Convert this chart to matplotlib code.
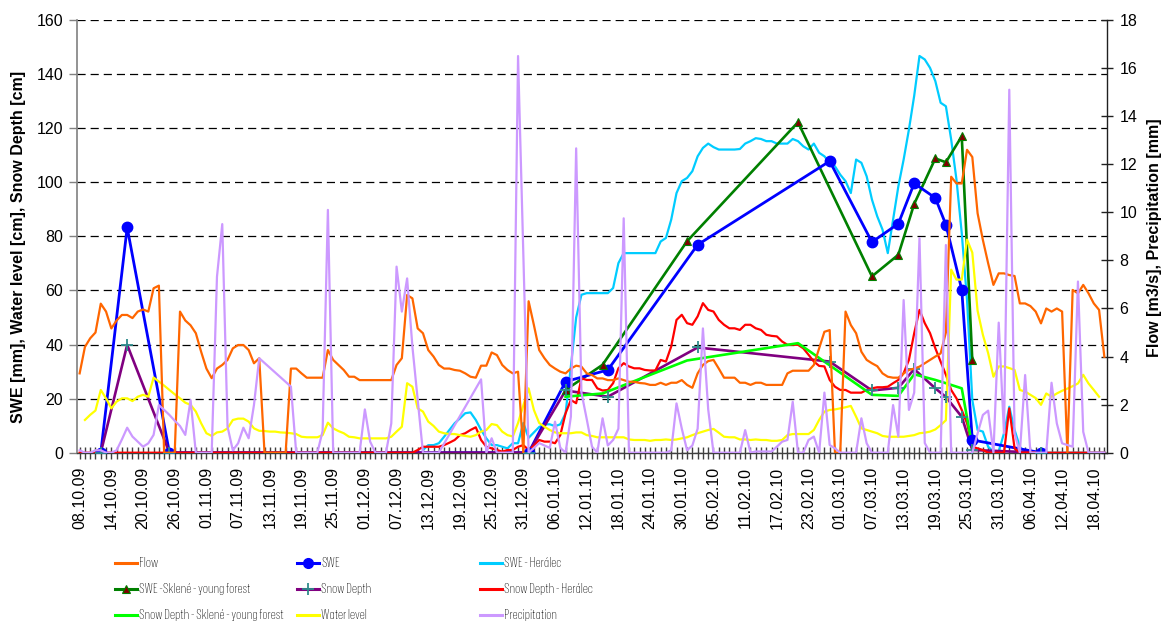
import os
import numpy as np
import pandas as pd
import matplotlib
matplotlib.use("Agg")
import matplotlib.pyplot as plt
from matplotlib.lines import Line2D
from matplotlib import font_manager
from matplotlib.font_manager import FontProperties
from matplotlib.textpath import TextPath
from matplotlib.ft2font import FT2Font

plt.rcParams['font.family'] = ['Liberation Sans', 'DejaVu Sans']

nan = np.nan

# ---- daily series, 08.10.2009 - 20.04.2010 ----
start_date = '2009-10-08'
n_days = 195
dates = pd.date_range(start_date, periods=n_days, freq='D').to_pydatetime()

flow = [  # m3/s
    3.3, 4.4, 4.76, 5.0, 6.2, 5.87, 5.17, 5.5, 5.73, 5.73,
    5.6, 5.87, 5.96, 5.87, 6.84, 6.95, 0, 0, 0, 5.87,
    5.5, 5.3, 4.97, 4.2, 3.5, 3.1, 3.5, 3.65, 3.86, 4.34,
    4.48, 4.48, 4.27, 3.72, 3.93, 0, 0, 0, 0, 0,
    3.5, 3.5, 3.3, 3.12, 3.12, 3.12, 3.12, 4.27, 3.86, 3.65,
    3.44, 3.16, 3.16, 3.02, 3.02, 3.02, 3.02, 3.02, 3.02, 3.02,
    3.65, 3.93, 6.56, 6.42, 5.17, 4.97, 4.27, 4.0, 3.65, 3.5,
    3.5, 3.44, 3.41, 3.3, 3.16, 3.12, 3.62, 3.62, 4.17, 4.06,
    3.65, 3.44, 3.3, 3.37, 0, 6.3, 5.31, 4.27, 3.93, 3.65,
    3.5, 3.37, 3.3, 3.5, 3.62, 3.58, 3.3, 3.23, 3.09, 3.09,
    3.02, 3.02, 3.09, 3.02, 2.95, 2.95, 2.9, 2.88, 2.82, 2.82,
    2.91, 2.82, 2.91, 2.91, 3.02, 2.82, 2.7, 3.3, 3.65, 3.81,
    3.86, 3.5, 3.12, 3.12, 3.12, 2.91, 2.91, 2.82, 2.91, 2.91,
    2.82, 2.82, 2.82, 2.82, 3.3, 3.41, 3.41, 3.41, 3.41, 3.65,
    4.34, 5.03, 5.1, 0, 0, 5.87, 5.31, 4.97, 4.2, 3.86,
    3.72, 3.6, 3.3, 3.16, 3.12, 3.12, 3.3, 3.44, 3.5, 3.58,
    3.72, 3.86, 4.0, 4.13, 5.0, 11.48, 11.2, 11.2, 12.6, 12.3,
    9.96, 8.85, 7.88, 6.98, 7.46, 7.46, 7.39, 7.35, 6.21, 6.21,
    6.1, 5.87, 5.38, 6.0, 5.87, 6.0, 5.87, 0, 6.77, 6.63,
    6.98, 6.63, 6.21, 5.94, 3.99,
]

water_level = [  # cm
    nan, 12.1, 14, 15.6, 23.2, 20.1, 16.4, 18.9, 20.1, 20.1,
    19.1, 20.7, 21.4, 20.7, 27.8, 26.3, 24.8, 23.2, 21.6, 20.1,
    18.5, 17.7, 15.2, 10.9, 7.2, 6.2, 7.5, 7.8, 9.0, 12.1,
    12.6, 12.6, 11.5, 9.0, 8.1, 8.0, 7.8, 7.8, 7.5, 7.4,
    7.2, 6.9, 5.9, 5.7, 5.7, 5.7, 6.5, 11.1, 9.0, 8.0,
    7.2, 5.9, 5.7, 5.3, 5.3, 5.3, 5.3, 5.3, 5.3, 5.9,
    7.8, 9.6, 25.7, 24.4, 16.4, 15.2, 11.5, 9.9, 7.8, 7.2,
    6.9, 6.9, 6.5, 6.2, 5.9, 6.5, 7.8, 8.4, 10.6, 10.2,
    7.8, 6.5, 6.0, 11.0, 17.5, 23.8, 15.8, 11.0, 9.6, 8.4,
    7.5, 7.2, 7.2, 7.2, 7.5, 7.5, 6.5, 6.2, 5.7, 5.7,
    5.7, 5.7, 5.7, 5.7, 4.9, 4.7, 4.7, 4.7, 4.4, 4.7,
    4.7, 4.9, 4.7, 4.9, 5.3, 5.7, 6.5, 7.2, 7.8, 8.4,
    8.8, 7.4, 5.9, 5.7, 5.7, 4.9, 4.9, 4.7, 4.9, 4.7,
    4.7, 4.4, 4.4, 4.7, 6.5, 6.9, 6.9, 6.9, 6.9, 8.4,
    12.1, 15.2, 15.8, 16.0, 16.4, 16.8, 17.3, 13.3, 9.0, 8.4,
    7.8, 7.2, 6.2, 5.9, 5.9, 5.9, 5.9, 6.2, 6.5, 7.2,
    7.4, 7.8, 8.6, 10.2, 12.0, 67.7, 64.0, 64.0, 78.8, 74.0,
    52.5, 43.6, 36.8, 28.1, 31.9, 31.9, 31.3, 30.6, 23.2, 22.6,
    21.4, 20.2, 17.7, 21.9, 20.7, 21.9, 22.9, 23.7, 24.6, 25.6,
    28.8, 25.6, 23.2, 20.7, nan,
]

precipitation = [  # mm, nan = no record
    0.1, 0, 0, 0.1, 0.1, 0, 0, 0.1, 0.55, 1.04,
    0.67, 0.46, 0.25, 0.39, 0.74, 1.98, 1.78, 1.57, 1.33, 1.11,
    0.74, 2.19, 0, 0, 0, 0, 7.32, 9.51, 1.08, 0.1,
    0.39, 1.04, 0.6, 1.98, 3.93, nan, nan, nan, nan, nan,
    2.75, 0, 0, 0, 0, 0, 0.9, 10.1, 0, 0,
    0, 0, 0, 0, 1.8, 0.46, 0, 0, 0, 1.22,
    7.74, 5.87, 7.25, 4.41, 2.19, 0, 0, 0, 0, nan,
    nan, nan, nan, nan, nan, nan, 3.05, 0, 0.6, 0,
    0, 0, 0, 16.5, 8.3, 0, 0.2, 0.4, 0.3, 0.2,
    1.29, 0.2, 0, 1.5, 12.66, 2.5, 1.4, 0.25, 0, 1.43,
    0.3, 0.53, 1.0, 9.75, 0, 0, 0, 0, 0, 0,
    0, 0, 0.1, 2.05, 1.0, 0.1, 0.3, 1.0, 5.17, 1.8,
    0, 0, 0, 0, 0, 0, 0.94, 0, 0.05, 0.05,
    0.05, 0.05, 0.25, 0.46, 0.53, 2.12, 0, 0, 0.53, 0.67,
    0, 2.5, 0.32, 0.18, 0, 0, 0, 0, 1.43, 0.39,
    0, 0, 0, 0, 1.98, 0.67, 6.35, 1.78, 2.5, 8.92,
    0.4, 0, 0, 0, 8.64, 0, 0, 0, 0, 0,
    0.8, 1.57, 1.75, 0, 5.41, 0.8, 15.1, 0.8, 0, 3.23,
    0, 0, 0, 0, 2.91, 1.22, 0.39, 0.32, 0.25, 7.12,
    0.87, 0, 0, 0, 0,
]

swe_heralec = [nan] * 65 + [  # mm, from 12.12.2009
    1.0, 2.8, 2.8, 3.5, 5.9,
    8.4, 10.9, 12.7, 14.6, 14.9, 12.1, 8.4, 5.3, 2.8, 2.8,
    2.2, 1.6, 3.5, 3.5, 11.0, 5.5, 7.5, 9.5, 10.5, 10.5,
    9.8, 10.5, 14.6, 31.9, 50.0, 58.4, 59, 59, 59, 59,
    59, 60.9, 70.1, 73.8, 73.8, 73.8, 73.8, 73.8, 73.8, 73.8,
    78.1, 79.4, 86.2, 96, 100.4, 101.6, 104.1, 109.6, 112.7, 114.3,
    113, 112.1, 112.1, 112.1, 112.1, 112.3, 114.3, 115.2, 116.3, 116,
    115.2, 115.2, 114.3, 114.3, 114.3, 116, 115.2, 113.3, 112.1, 114.3,
    110.9, 109.6, 107.2, 105.9, 102.8, 100.4, 96, 108.4, 107.2, 102.2,
    93.6, 87.4, 82.5, 73.8, 86.2, 98.5, 108.4, 119.5, 132, 146.7,
    145.4, 142.3, 137.4, 129.4, 128.1, 115.8, 101, 81.2, 56.5, 19.5,
    8.4, 7.8, 2.2, 0.4, 0.4, 7.2, 17, 8.4, 2.2, 0,
    0, 0, 0, 0, 0, 0, 0, 0, 0, 0, 0, 0, 0, 0, 0,
]

snow_depth_heralec = [0.0] * 64 + [  # cm
    1.0, 2.2, 2.2, 2.2, 2.2, 2.8,
    3.7, 4.7, 6.5, 7.2, 8.4, 9.4, 4.7, 2.2, 1.6, 1.0,
    0.4, 1.0, 1.0, 2.2, 2.8, 1.0, 2.5, 4.7, 4.1, 4.1,
    3.5, 6.5, 14.6, 19.5, 18.3, 27.5, 26.9, 26.9, 23.8, 23.0,
    23.2, 25.7, 31.2, 33.1, 31.9, 31.2, 31.2, 30.6, 30.4, 30.4,
    34.3, 33.7, 39.3, 49.1, 51.0, 47.9, 47.3, 50.4, 55.3, 52.8,
    52.2, 49.1, 47.3, 46.0, 46.0, 45.4, 47.3, 47.3, 46.0, 45.4,
    43.6, 43.2, 43.0, 41.1, 39.9, 39.9, 39.9, 38.6, 36.2, 33.7,
    32.1, 31.9, 26.9, 24.4, 23.2, 23.2, 22.2, 22.2, 22.2, 23.2,
    23.8, 24.2, 24.2, 24.4, 25.7, 26.9, 29.4, 34.3, 44.2, 52.8,
    47.9, 44.2, 38.6, 33.7, 28.8, 23.2, 20.1, 15.8, 10.9, 2.2,
    1.6, 1.0, 0, 0, 0, 0, 16.4, 1.6, 0, 0,
    0, 0, 0, 0, 0, 0, 0, 0, 0, 0, 0, 0, 0, 0, 0,
]

# ---- field surveys ----
survey_dates = ['2009-10-12', '2009-10-17', '2009-10-25', '2010-01-01',
                '2010-01-08', '2010-01-16', '2010-02-02', '2010-02-27',
                '2010-03-07', '2010-03-12', '2010-03-15', '2010-03-19',
                '2010-03-21', '2010-03-24', '2010-03-26', '2010-04-08']
swe = [0, 83.3, 0, 0, 26.3, 30.6, 76.9, 107.8,
       77.9, 84.7, 99.6, 94.2, 84.3, 60.3, 4.7, 0]
snow_depth = [0, 39.9, 0, 0, 23.0, 20.7, 38.9, 33.7,
              23.0, 24.0, 30.9, 23.8, 20.6, 13.3, 1.0, 0]

sklene_dates = ['2010-01-08', '2010-01-15', '2010-01-31', '2010-02-21',
                '2010-03-07', '2010-03-12', '2010-03-15', '2010-03-19',
                '2010-03-21', '2010-03-24', '2010-03-26']
swe_sklene = [23.2, 32.5, 78.2, 122.2, 65.2, 73.2, 92.0, 108.8, 107.4, 117.0, 34.1]
snow_depth_sklene = [20.7, 21.9, 34.1, 40.5, 21.4, 21.0, 29.0, 26.9, 25.7, 23.8, 2.2]

for s in (flow, water_level, precipitation, swe_heralec, snow_depth_heralec):
    assert len(s) == n_days, len(s)

survey_x = pd.to_datetime(survey_dates).to_pydatetime()
sklene_x = pd.to_datetime(sklene_dates).to_pydatetime()

# ---- colours ----
C_FLOW = '#FF6600'
C_SWE = '#0000FF'
C_SWE_H = '#00CCFF'
C_SWE_S = '#008000'
C_SD = '#800080'
C_SD_H = '#FF0000'
C_SD_S = '#00FF00'
C_WL = '#FFFF00'
C_PREC = '#CC99FF'
C_TRI = '#800000'
C_PLUS = '#2E8B8B'

W, H = 1173, 626
fig = plt.figure(figsize=(W / 100, H / 100), dpi=100)
ax = fig.add_axes([77 / W, 1 - 452.7 / H, (1107 - 77) / W, (452.7 - 20) / H])
ax2 = ax.twinx()

LW = 1.6
wl = np.array(water_level, dtype=float)
ok_wl = ~np.isnan(wl)
ax.plot(dates, swe_heralec, color=C_SWE_H, lw=LW, zorder=3)
ax.plot(sklene_x, swe_sklene, color=C_SWE_S, lw=1.9, zorder=4)
ax.plot(survey_x, swe, color=C_SWE, lw=2.0, zorder=4)
ax.plot(survey_x, snow_depth, color=C_SD, lw=1.9, zorder=4)
ax.plot(dates, snow_depth_heralec, color=C_SD_H, lw=LW, zorder=4)
ax.plot(sklene_x, snow_depth_sklene, color=C_SD_S, lw=1.9, zorder=4)
ax.plot(np.array(dates)[ok_wl], wl[ok_wl], color=C_WL, lw=LW, zorder=4)
# markers on top of the lines
ax.plot(survey_x, swe, ls='none', marker='o', ms=7.5, mfc=C_SWE, mec=C_SWE, zorder=6)
ax.plot(sklene_x, swe_sklene, ls='none', marker='^', ms=5.5, mfc=C_TRI,
        mec=C_SWE_S, mew=0.8, zorder=6)
ax.plot(survey_x, snow_depth, ls='none', marker='+', ms=9, mec=C_PLUS, mew=1.3, zorder=6)

prec = np.array(precipitation, dtype=float)
ok_p = ~np.isnan(prec)
ax2.plot(dates, flow, color=C_FLOW, lw=LW, zorder=3)
ax2.plot(np.array(dates)[ok_p], prec[ok_p], color=C_PREC, lw=LW, zorder=4)

# ---- axes ----
pad_day = pd.Timedelta(hours=12)
ax.set_xlim(dates[0] - pad_day, dates[-1] + pad_day)
ax.set_ylim(0, 160)
ax.set_yticks(np.arange(0, 161, 20))
ax2.set_ylim(0, 18)
ax2.set_yticks(np.arange(0, 19, 2))

ax.set_xticks(dates[::6])
ax.set_xticklabels([d.strftime('%d.%m.%y') for d in dates[::6]], rotation=90,
                   fontsize=11.5, va='top', ha='center')
ax.set_xticks(dates, minor=True)
ax.tick_params(axis='x', which='both', direction='inout', length=8, width=1,
               color='#404040', pad=6)
ax.tick_params(axis='y', direction='out', length=6, width=1, color='#808080',
               labelsize=11.5, pad=4)
ax2.tick_params(axis='y', direction='inout', length=8, width=1, color='#202020',
                labelsize=11.5, pad=5)

ax.grid(axis='y', color='black', lw=0.9, linestyle=(0, (6.5, 4.0)), zorder=1)
ax.set_axisbelow(True)

for side in ('top', 'right'):
    ax.spines[side].set_visible(False)
for side in ('top', 'left', 'bottom'):
    ax2.spines[side].set_visible(False)
ax.spines['left'].set_color('#808080')
ax.spines['left'].set_linewidth(1.2)
ax.spines['bottom'].set_color('#404040')
ax.spines['bottom'].set_linewidth(1.0)
ax2.spines['right'].set_color('#202020')
ax2.spines['right'].set_linewidth(1.0)

fig.text(19 / W, 1 - 247 / H, 'SWE [mm], Water level [cm], Snow Depth [cm]',
         rotation=90, ha='center', va='center', fontsize=11.5, fontweight='bold')
fig.text(1155 / W, 1 - 238 / H, 'Flow [m3/s], Precipitation [mm]',
         rotation=90, ha='center', va='center', fontsize=11.5, fontweight='bold')

# ---- legend, three rows by three columns ----
legend_items = [
    [('Flow', C_FLOW, None), ('SWE', C_SWE, 'o'), ('SWE - Herálec', C_SWE_H, None)],
    [('SWE -Sklené - young forest', C_SWE_S, '^'), ('Snow Depth', C_SD, '+'),
     ('Snow Depth - Herálec', C_SD_H, None)],
    [('Snow Depth - Sklené - young forest', C_SD_S, None), ('Water level', C_WL, None),
     ('Precipitation', C_PREC, None)],
]


def legend_font(longest, width_px, cap_px):
    """Choose a regular sans face and size whose text block is closest to
    width_px wide (never wider) with capitals about cap_px tall."""
    cands = {}
    for f in font_manager.fontManager.ttflist:
        base = os.path.basename(f.fname).lower()
        if any(k in base for k in ('bold', 'italic', 'oblique', 'light', 'thin',
                                   'black', 'medium', 'semibold', 'extra', 'mono',
                                   'serif', 'cjk', 'math')):
            continue
        narrow = ('narrow' in base or 'condensed' in base
                  or 'condensed' in str(f.stretch))
        if narrow or f.name == 'Liberation Sans':
            cands[f.fname] = f.name
    best = (1e9, None, 7.0)
    for fn in cands:
        try:
            if ord('é') not in FT2Font(fn).get_charmap():
                continue
            fp = FontProperties(fname=fn)
            w10 = TextPath((0, 0), longest, size=10, prop=fp).get_extents().width * 100 / 72
            c10 = TextPath((0, 0), 'H', size=10, prop=fp).get_extents().height * 100 / 72
        except Exception:
            continue
        if w10 <= 0 or c10 <= 0:
            continue
        for size in np.arange(6.0, 14.01, 0.1):
            w = w10 * size / 10
            c = c10 * size / 10
            if w > width_px + 2:
                break
            err = abs(c - cap_px) / cap_px + abs(w - width_px) / width_px
            if err < best[0]:
                best = (err, fn, float(size))
    if best[1] is None:
        return FontProperties(family=['Liberation Sans', 'DejaVu Sans'], size=7.0)
    return FontProperties(fname=best[1], size=best[2])


leg_fp = legend_font('Snow Depth - Sklené - young forest', 152, 10)

col_x = [115, 297, 480]
row_y = [563, 589, 615]
for r, row in enumerate(legend_items):
    for c, (label, color, marker) in enumerate(row):
        x0 = col_x[c]
        y0 = 1 - row_y[r] / H
        xs = [x0 / W, (x0 + 11) / W, (x0 + 22) / W]
        fig.add_artist(Line2D(xs, [y0] * 3, transform=fig.transFigure,
                              color=color, lw=2.2))
        if marker == 'o':
            fig.add_artist(Line2D([xs[1]], [y0], transform=fig.transFigure, ls='none',
                                  marker='o', ms=7, mfc=C_SWE, mec=C_SWE))
        elif marker == '^':
            fig.add_artist(Line2D([xs[1]], [y0], transform=fig.transFigure, ls='none',
                                  marker='^', ms=5.5, mfc=C_TRI, mec=C_SWE_S, mew=0.8))
        elif marker == '+':
            fig.add_artist(Line2D([xs[1]], [y0], transform=fig.transFigure, ls='none',
                                  marker='+', ms=9, mec=C_PLUS, mew=1.3))
        fig.text((x0 + 24) / W, y0, label, ha='left', va='center', fontproperties=leg_fp)

fig.savefig('out.png', dpi=100)
